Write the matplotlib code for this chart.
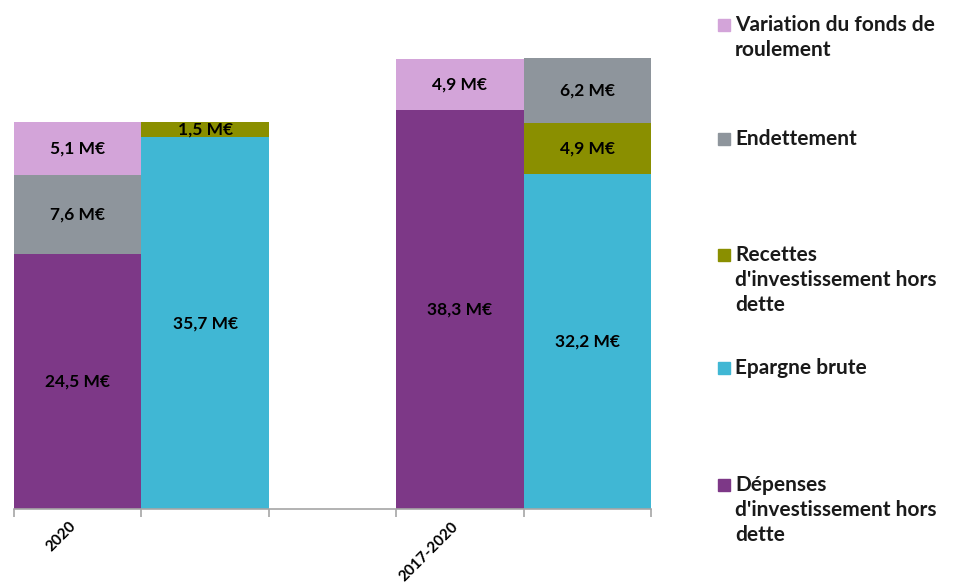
import matplotlib
matplotlib.use("Agg")
import matplotlib.pyplot as plt
from matplotlib.patches import Rectangle
from matplotlib.transforms import ScaledTranslation

plt.rcParams['font.family'] = ['Lato', 'DejaVu Sans']

# bar slots: 2020 (2 bars), empty slot, 2017-2020 (2 bars)
bar_pos = [0, 1, 3, 4]
group_pos = [0, 3]
group_labels = ["2020", "2017-2020"]

# stacked series, bottom to top, one value per bar
series_names = ["Dépenses\nd'investissement hors\ndette", "Epargne brute",
                "Recettes\nd'investissement hors\ndette", "Endettement",
                "Variation du fonds de\nroulement"]
depenses = [24.5, 0, 38.3, 0]
epargne = [0, 35.7, 0, 32.2]
recettes = [0, 1.5, 0, 4.9]
endettement = [7.6, 0, 0, 6.2]
variation = [5.1, 0, 4.9, 0]

colors = ["#7D3887", "#40B7D4", "#8A8F00", "#8E959C", "#D3A4D9"]

fig = plt.figure(figsize=(9.54, 5.83), dpi=100)
ax = fig.add_axes([14 / 954, 74 / 583, 637 / 954, 468.5 / 583])

data = [depenses, epargne, recettes, endettement, variation]
bottom = [0.0] * len(bar_pos)
for vals, col in zip(data, colors):
    ax.bar(bar_pos, vals, width=1.0, bottom=bottom, color=col, linewidth=0)
    for x, v, b in zip(bar_pos, vals, bottom):
        if v > 0:
            lab = ("%.1f M€" % v).replace(".", ",")
            ax.text(x, b + v / 2, lab, ha='center', va='center',
                    fontsize=12.5, fontweight='bold', color='black')
    bottom = [b + v for b, v in zip(bottom, vals)]

ax.set_xlim(-0.5, 4.5)
ax.set_ylim(0, 45)
for s in ['top', 'right', 'left']:
    ax.spines[s].set_visible(False)
ax.spines['bottom'].set_color('#A6A6A6')
ax.spines['bottom'].set_linewidth(1.2)
ax.set_yticks([])

ax.set_xticks([-0.5, 0.5, 1.5, 2.5, 3.5, 4.5], minor=True)
ax.tick_params(axis='x', which='minor', length=6, color='#A6A6A6', width=1.2)
ax.set_xticks(group_pos)
ax.set_xticklabels(group_labels, rotation=45, ha='right', va='center',
                   rotation_mode='anchor', fontsize=11, fontweight='bold')
ax.tick_params(axis='x', which='major', length=0, pad=11)
for lbl in ax.get_xticklabels():
    lbl.set_transform(lbl.get_transform() + ScaledTranslation(-4 / 100, 0, fig.dpi_scale_trans))

# legend drawn on the right, entries spread like the original
leg_y = [25, 139, 255, 368, 485]  # first-line centre, pixels from top
leg_names = series_names[::-1]
leg_cols = colors[::-1]
for name, col, yp in zip(leg_names, leg_cols, leg_y):
    fy = 1 - yp / 583
    fig.patches.append(Rectangle((718 / 954, fy - 6 / 583), 12 / 954, 12 / 583,
                                 transform=fig.transFigure, color=col, figure=fig))
    fig.text(735 / 954, fy + 10 / 583, name, ha='left', va='top', fontsize=15,
             fontweight='bold', linespacing=1.3, color='#1a1a1a')

fig.savefig("out.png", dpi=100)
